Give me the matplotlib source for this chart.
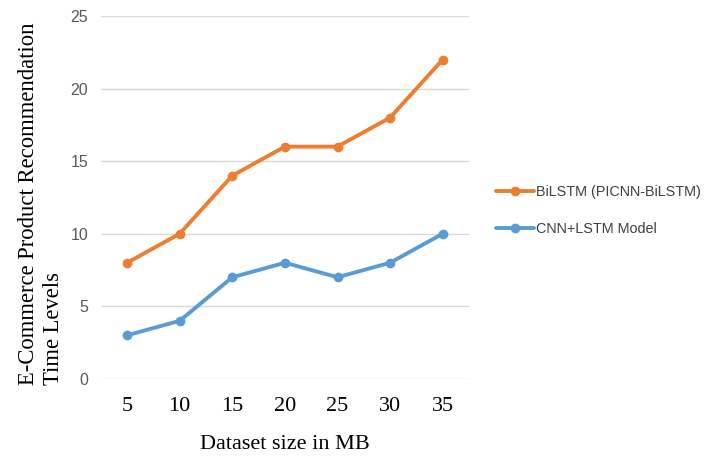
import matplotlib
matplotlib.use("Agg")
import matplotlib.pyplot as plt

sizes = ["5", "10", "15", "20", "25", "30", "35"]
bilstm = [8, 10, 14, 16, 16, 18, 22]
cnn_lstm = [3, 4, 7, 8, 7, 8, 10]
y_ticks = [0, 5, 10, 15, 20, 25]

fig = plt.figure(figsize=(7.15, 4.57), dpi=100)
ax = fig.add_axes([0.141, 0.171, 0.515, 0.794])

x = list(range(len(sizes)))
orange = "#ED7D31"
blue = "#5B9BD5"
ax.plot(x, bilstm, color=orange, lw=2.8, marker="o", ms=6,
        label="BiLSTM (PICNN-BiLSTM)", solid_capstyle="round")
ax.plot(x, cnn_lstm, color=blue, lw=2.8, marker="o", ms=6,
        label="CNN+LSTM Model", solid_capstyle="round")

ax.set_xlim(-0.5, len(sizes) - 0.5)
ax.set_ylim(0, 25)
ax.set_yticks(y_ticks)
ax.set_xticks(x)
ax.set_xticklabels(sizes, family="Liberation Serif", fontsize=16, color="black")
for lab in ax.get_yticklabels():
    lab.set_family("Liberation Sans")
    lab.set_fontsize(11.5)
    lab.set_color("#595959")
ax.tick_params(axis="both", length=0)
ax.tick_params(axis="y", pad=9)
ax.tick_params(axis="x", pad=13)
ax.grid(axis="y", color="#D9D9D9", lw=1)
ax.set_axisbelow(True)
for s in ax.spines.values():
    s.set_visible(False)

ax.set_xlabel("Dataset size in MB", family="Liberation Serif", fontsize=16, labelpad=13.5)
ax.set_ylabel("E-Commerce Product Recommendation\nTime Levels", family="Liberation Serif",
              fontsize=16.3, linespacing=1.25, multialignment="left")
ax.yaxis.set_label_coords(-0.1, 0.483)

leg = fig.legend(loc="center left", bbox_to_anchor=(0.686, 0.539),
                 bbox_transform=fig.transFigure, borderaxespad=0, frameon=False,
                 prop={"family": "Liberation Sans", "size": 10.4}, handlelength=2.6,
                 labelspacing=1.6, handletextpad=0.15)
for t in leg.get_texts():
    t.set_color("#404040")

fig.savefig("out.png", dpi=100)
